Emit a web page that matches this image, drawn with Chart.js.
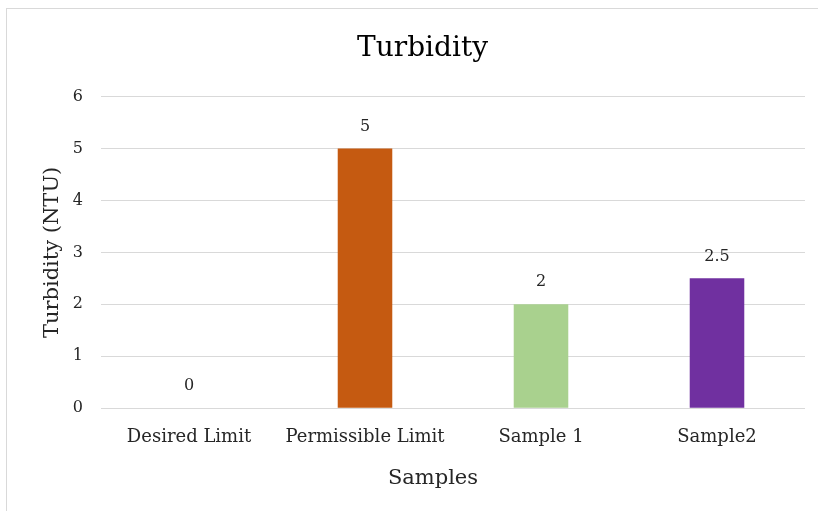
<!DOCTYPE html>
<html>
<head>
<meta charset="utf-8">
<script src="https://cdn.jsdelivr.net/npm/chart.js@4.4.0/dist/chart.umd.min.js"></script>
<style>
    body { margin: 0; background: #fff; }
    #frame {
        position: absolute; left: 6px; top: 8px;
        width: 830px; height: 520px;
        border: 1px solid #d9d9d9;
    }
    #wrap { position: absolute; left: 0; top: 0; width: 818px; height: 511px; }
</style>
</head>
<body>
<div id="frame"></div>
<div id="wrap"><canvas id="chart"></canvas></div>
<script>
// Chart data
const categories = ['Desired Limit', 'Permissible Limit', 'Sample 1', 'Sample2'];
const turbidity = [0, 5, 2, 2.5];
const barColors = ['#4472c4', '#c55a11', '#a9d18e', '#7030a0'];

const FONT = "'DejaVu Serif', serif";

// Draw value labels above bars
const valueLabels = {
    id: 'valueLabels',
    afterDatasetsDraw(chart) {
        const ctx = chart.ctx;
        const meta = chart.getDatasetMeta(0);
        ctx.save();
        ctx.font = '16px ' + FONT;
        ctx.fillStyle = '#262626';
        ctx.textAlign = 'center';
        ctx.textBaseline = 'bottom';
        meta.data.forEach((bar, i) => {
            ctx.fillText(String(turbidity[i]), bar.x, bar.y - 14);
        });
        ctx.restore();
    }
};

new Chart(document.getElementById('chart'), {
    type: 'bar',
    data: {
        labels: categories,
        datasets: [{
            data: turbidity,
            backgroundColor: barColors,
            barPercentage: 0.31,
            categoryPercentage: 1
        }]
    },
    options: {
        responsive: true,
        maintainAspectRatio: false,
        animation: false,
        layout: { padding: { left: 40, right: 13, top: 20, bottom: 16 } },
        plugins: {
            legend: { display: false },
            tooltip: { enabled: false },
            title: {
                display: true,
                text: 'Turbidity',
                color: '#000',
                font: { family: FONT, size: 28, weight: 'normal' },
                padding: { top: 12, bottom: 31 }
            }
        },
        scales: {
            x: {
                grid: { display: false },
                border: { display: false },
                ticks: { color: '#262626', font: { family: FONT, size: 18 }, padding: 10 },
                title: {
                    display: true,
                    // trailing spaces nudge the title left, as in the original
                    text: 'Samples      ',
                    color: '#262626',
                    font: { family: FONT, size: 21 },
                    padding: { top: 8 }
                }
            },
            y: {
                min: 0,
                max: 6,
                afterFit: (scale) => { scale.width = 61; },
                ticks: { stepSize: 1, color: '#262626', font: { family: FONT, size: 16 }, padding: 18 },
                grid: { color: '#d9d9d9', drawTicks: false },
                border: { display: false },
                title: {
                    display: true,
                    text: 'Turbidity (NTU)',
                    color: '#262626',
                    font: { family: FONT, size: 21 },
                    padding: { top: 0, bottom: 0 }
                }
            }
        }
    },
    plugins: [valueLabels]
});
</script>
</body>
</html>
